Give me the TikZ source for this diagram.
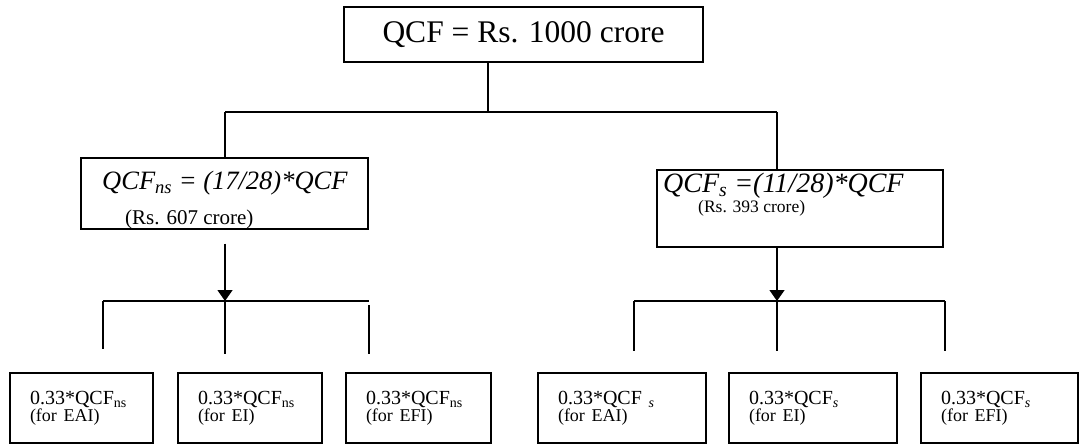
\documentclass[tikz,border=0pt]{standalone}
\usepackage{fontspec}
\setmainfont{Liberation Serif}
\usetikzlibrary{arrows.meta, calc}

\begin{document}
\begin{tikzpicture}[x=1pt, y=-1pt,
      box/.style={draw, line width=1.4pt, inner sep=0pt},
      leaf/.style={draw, line width=1.4pt, align=left, inner xsep=20pt, inner ysep=0pt, text width=#1, minimum height=70pt, font=\fontsize{20}{17}\selectfont},
      wire/.style={line width=1.4pt},
      txt/.style={anchor=north west, inner sep=0pt, align=left}]
  \useasboundingbox (0,0) rectangle (1081,445);
  \node[box, minimum width=359pt, minimum height=55pt, font=\fontsize{31.5}{36}\selectfont] (qcf) at (523.5,34.5) {QCF = Rs. 1000 crore};
  \node[box, minimum width=287pt, minimum height=71pt] (ns) at (224.5,193.5) {};
  \node[box, minimum width=286pt, minimum height=77pt] (s) at (800,208.5) {};
  \node[txt, font=\fontsize{21}{35}\selectfont] (nstext) at (102,171) {{\fontsize{26.5}{35}\selectfont\itshape QCF\textsubscript{ns} = (17/28)*QCF}\\\hspace*{23pt}(Rs. 607 crore)};
  \node[txt, font=\fontsize{17.5}{20}\selectfont] (stext) at (663,173) {{\fontsize{28}{20}\selectfont\itshape QCF\textsubscript{s} =(11/28)*QCF}\\\hspace*{35pt}(Rs. 393 crore)};

  \node[leaf=103pt] (nseai) at (81.5,408) {0.33*QCF\textsubscript{ns}\\{\fontsize{18}{17}\selectfont (for EAI)}};
  \node[leaf=104pt] (nsei) at (250,408) {0.33*QCF\textsubscript{ns}\\{\fontsize{18}{17}\selectfont (for EI)}};
  \node[leaf=105pt] (nsefi) at (418.5,408) {0.33*QCF\textsubscript{ns}\\{\fontsize{18}{17}\selectfont (for EFI)}};
  \node[leaf=128pt] (seai) at (622,408) {0.33*QCF \textsubscript{\textit{s}}\\{\fontsize{18}{17}\selectfont (for EAI)}};
  \node[leaf=128pt] (sei) at (813,408) {0.33*QCF\textsubscript{\textit{s}}\\{\fontsize{18}{17}\selectfont (for EI)}};
  \node[leaf=117pt] (sefi) at (999.5,408) {0.33*QCF\textsubscript{\textit{s}}\\{\fontsize{18}{17}\selectfont (for EFI)}};

  \coordinate (split) at (488,112);
  \coordinate (nsjoin) at (225,112);
  \coordinate (sjoin) at (777,112);
  \coordinate (nsa) at (103,301);
  \coordinate (nsfork) at (225,301);
  \coordinate (nsc) at (369,301);
  \coordinate (sa) at (634,301);
  \coordinate (sfork) at (777,301);
  \coordinate (sc) at (945,301);

  \draw[wire] (qcf.south -| split) -- (split);
  \draw[wire] (nsjoin) -- (sjoin);
  \draw[wire] (nsjoin) -- (nsjoin |- ns.north);
  \draw[wire] (sjoin) -- (sjoin |- s.north);
  \draw[wire, -{Triangle[length=11pt, width=15pt]}] ($(nsfork |- ns.south)+(0,14)$) -- (nsfork);
  \draw[wire, -{Triangle[length=11pt, width=15pt]}] (sfork |- s.south) -- (sfork);
  \draw[wire] (nsa) -- (nsc);
  \draw[wire] (sa) -- (sc);
  \draw[wire, shorten >=23pt] (nsa) -- (nsa |- nseai.north);
  \draw[wire, shorten >=18pt] (nsfork) -- (nsfork |- nsei.north);
  \draw[wire, shorten <=4pt, shorten >=18pt] (nsc) -- (nsc |- nsefi.north);
  \draw[wire, shorten >=21pt] (sa) -- (sa |- seai.north);
  \draw[wire, shorten >=21pt] (sfork) -- (sfork |- sei.north);
  \draw[wire, shorten >=21pt] (sc) -- (sc |- sefi.north);
\end{tikzpicture}
\end{document}
